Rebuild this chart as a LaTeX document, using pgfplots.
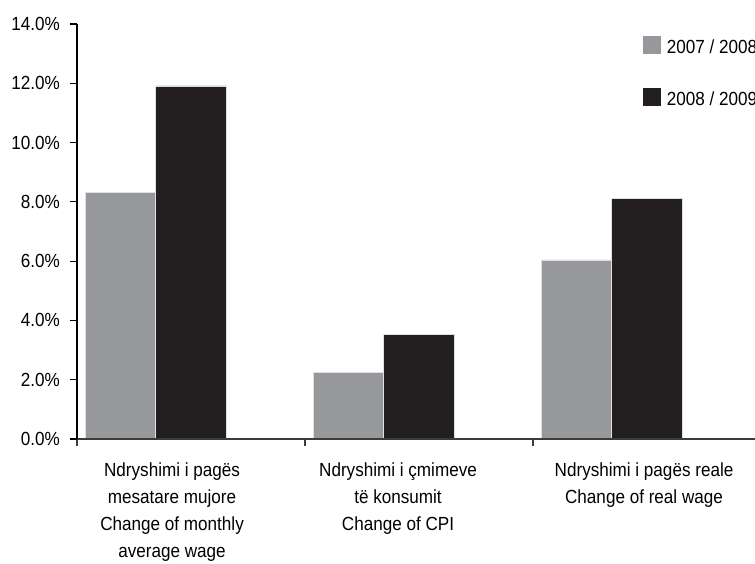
\documentclass[border=0pt]{standalone}
\usepackage{pgfplots}
\pgfplotsset{compat=1.18}
\usepackage{fontspec}
\setmainfont{Liberation Sans}[FakeStretch=0.9]
\definecolor{bargrey}{RGB}{151,152,156}
\definecolor{barblack}{RGB}{35,31,32}
\definecolor{axisgrey}{RGB}{60,60,60}
\begin{document}
\begin{tikzpicture}[font=\fontsize{19}{26.7}\selectfont]
\path[use as bounding box] (0,0) rectangle (755pt,564pt);
\begin{axis}[
  at={(77pt,125pt)}, anchor=south west,
  scale only axis, width=684pt, height=415pt,
  xmin=0, xmax=3, ymin=0, ymax=14,
  axis on top,
  axis x line=bottom, axis y line=left,
  x axis line style={-, line width=1.3pt, axisgrey},
  y axis line style={-, line width=1.1pt, black},
  xtick={0,1,2,3}, xticklabels={},
  ytick={0,2,4,6,8,10,12,14},
  tick align=outside, major tick length=7pt,
  x tick style={line width=1.3pt, axisgrey},
  y tick style={line width=1.1pt, black},
  /pgf/number format/assume math mode=true,
  yticklabel={\pgfmathprintnumber[fixed,fixed zerofill,precision=1]{\tick}\%},
  yticklabel style={anchor=east, inner sep=0pt, xshift=-10pt},
  clip=false,
  legend style={at={(0.8275,0.971)}, anchor=north west, draw=none, fill=none,
    inner sep=0pt, row sep=33pt,
    nodes={inner sep=0pt, anchor=base west},
    /tikz/every odd column/.append style={column sep=6pt}},
  legend cell align=left,
]
\addplot[ybar, /pgf/bar width=70.5pt, /pgf/bar shift=0pt, fill=bargrey, draw=black!12, line width=0.7pt,
  legend image code/.code={\fill[bargrey] (0pt,0pt) rectangle (17pt,17pt);}]
  coordinates {(0.191,8.31) (1.191,2.24) (2.191,6.04)};
\addlegendentry{2007 / 2008}
\addplot[ybar, /pgf/bar width=70.5pt, /pgf/bar shift=0pt, fill=barblack, draw=black!12, line width=0.7pt,
  legend image code/.code={\fill[barblack] (0pt,0pt) rectangle (17pt,17pt);}]
  coordinates {(0.5,11.91) (1.5,3.53) (2.5,8.11)};
\addlegendentry{2008 / 2009}
\node[anchor=north, align=center, inner sep=0pt, yshift=-24pt] at (axis cs:0.417,0)
  {Ndryshimi i pagës\\mesatare mujore\\Change of monthly\\average wage};
\node[anchor=north, align=center, inner sep=0pt, yshift=-24pt] at (axis cs:1.408,0)
  {Ndryshimi i çmimeve\\të konsumit\\Change of CPI};
\node[anchor=north, align=center, inner sep=0pt, yshift=-24pt] at (axis cs:2.487,0)
  {Ndryshimi i pagës reale\\Change of real wage};
\end{axis}
\end{tikzpicture}
\end{document}
